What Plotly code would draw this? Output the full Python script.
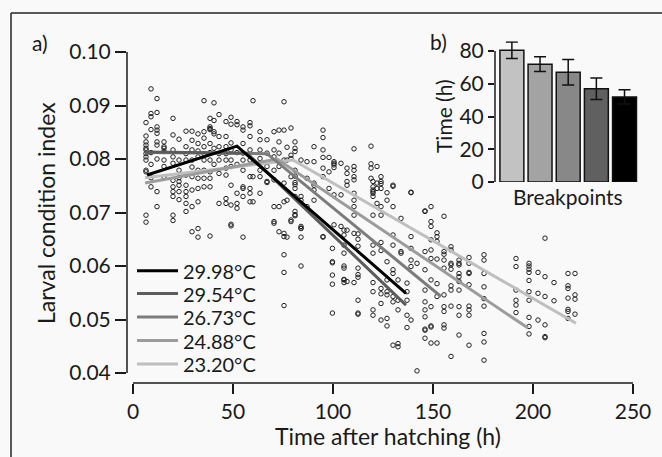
import plotly.graph_objects as go

# ---------------- data ----------------
# scatter columns: sampling time (h) and larval condition index values
col_time = [6.5, 9, 12, 15.5, 20, 23, 26.5, 29.5, 32.5, 35.5, 38.5, 40.5, 43, 46.5, 49, 52, 55,
            58.5, 60, 63.5, 67, 70.5, 73, 75.5, 77, 79, 81, 84, 87, 90.5, 95, 98, 99.7, 100.5,
            104, 105.5, 107, 110.5, 112.5, 119, 120, 122, 124, 127, 130, 132.5, 134, 137, 139,
            142, 146, 149, 152, 155.5, 159, 163, 168, 175.5, 191.5, 198, 202.5, 206, 210.5,
            217.5, 221]
col_values = [
    [0.0868, 0.0843, 0.0832, 0.0820, 0.0817, 0.0804, 0.0798, 0.0779, 0.0776, 0.0695, 0.0682, 0.0826, 0.0810],
    [0.0931, 0.0885, 0.0879, 0.0855, 0.0812, 0.0790, 0.0765, 0.0748],
    [0.0913, 0.0887, 0.0860, 0.0854, 0.0848, 0.0832, 0.0826, 0.0739, 0.0711, 0.0800],
    [0.0832, 0.0823, 0.0814, 0.0798, 0.0786, 0.0767, 0.0820],
    [0.0876, 0.0845, 0.0817, 0.0804, 0.0792, 0.0748, 0.0739, 0.0730, 0.0695, 0.0685, 0.0760],
    [0.0837, 0.0798, 0.0779, 0.0758, 0.0751, 0.0739, 0.0724, 0.0765],
    [0.0852, 0.0823, 0.0798, 0.0770, 0.0751, 0.0739, 0.0730, 0.0717, 0.0702, 0.0810],
    [0.0852, 0.0835, 0.0817, 0.0798, 0.0767, 0.0742, 0.0711, 0.0664, 0.0785],
    [0.0847, 0.0829, 0.0804, 0.0779, 0.0764, 0.0745, 0.0720, 0.0670, 0.0654, 0.0815],
    [0.0909, 0.0851, 0.0839, 0.0823, 0.0798, 0.0779, 0.0764, 0.0748, 0.0810],
    [0.0876, 0.0860, 0.0855, 0.0857, 0.0829, 0.0798, 0.0776, 0.0764, 0.0748, 0.0656, 0.0812],
    [0.0905, 0.0872, 0.0851, 0.0847, 0.0820, 0.0790],
    [0.0842, 0.0823, 0.0798, 0.0773, 0.0717, 0.0883, 0.0810],
    [0.0870, 0.0842, 0.0823, 0.0798, 0.0783, 0.0770, 0.0726, 0.0717, 0.0810],
    [0.0878, 0.0865, 0.0817, 0.0798, 0.0786, 0.0751, 0.0678, 0.0675, 0.0714, 0.0830],
    [0.0870, 0.0864, 0.0717, 0.0708, 0.0736, 0.0812, 0.0790],
    [0.0860, 0.0854, 0.0829, 0.0811, 0.0798, 0.0779, 0.0748, 0.0730, 0.0654, 0.0745],
    [0.0868, 0.0862, 0.0842, 0.0817, 0.0798, 0.0767, 0.0745, 0.0720, 0.0736],
    [0.0909, 0.0767, 0.0720],
    [0.0851, 0.0836, 0.0817, 0.0801, 0.0779, 0.0767, 0.0736],
    [0.0836, 0.0811, 0.0786, 0.0758, 0.0756],
    [0.0851, 0.0817, 0.0804, 0.0779, 0.0711, 0.0761, 0.0683, 0.0680],
    [0.0854, 0.0832, 0.0811, 0.0786, 0.0664, 0.0711],
    [0.0907, 0.0854, 0.0798, 0.0720, 0.0755, 0.0661, 0.0621, 0.0588, 0.0526, 0.0655],
    [0.0822, 0.0798, 0.0723, 0.0654],
    [0.0858, 0.0807, 0.0801, 0.0767, 0.0683, 0.0686],
    [0.0832, 0.0820, 0.0814, 0.0779, 0.0768, 0.0756, 0.0745, 0.0730, 0.0702, 0.0694, 0.0696, 0.0752],
    [0.0798, 0.0723, 0.0674, 0.0670, 0.0654, 0.0600, 0.0730, 0.0671],
    [0.0795, 0.0764, 0.0711],
    [0.0823, 0.0795, 0.0751, 0.0723, 0.0755, 0.0742],
    [0.0854, 0.0840, 0.0817, 0.0803, 0.0783, 0.0767, 0.0654, 0.0655],
    [0.0803, 0.0776, 0.0745],
    [0.0633, 0.0606, 0.0583, 0.0566, 0.0512, 0.0608],
    [0.0795, 0.0789, 0.0784, 0.0733, 0.0677, 0.0792],
    [0.0792, 0.0733, 0.0674],
    [0.0667, 0.0658, 0.0639, 0.0624, 0.0600, 0.0596, 0.0575, 0.0569, 0.0574],
    [0.0783, 0.0773, 0.0758, 0.0751, 0.0667, 0.0571],
    [0.0819, 0.0786, 0.0779, 0.0767, 0.0761, 0.0736, 0.0723, 0.0711, 0.0695, 0.0661, 0.0569],
    [0.0660, 0.0650, 0.0637, 0.0596, 0.0584, 0.0579, 0.0536, 0.0512, 0.0510],
    [0.0824, 0.0791, 0.0783, 0.0764],
    [0.0758, 0.0748, 0.0742, 0.0736, 0.0730, 0.0739, 0.0695, 0.0639, 0.0624, 0.0569, 0.0552, 0.0518, 0.0508],
    [0.0786, 0.0755, 0.0745, 0.0717],
    [0.0767, 0.0758, 0.0754, 0.0745, 0.0711, 0.0695, 0.0644, 0.0629, 0.0558, 0.0530, 0.0548, 0.0499],
    [0.0737, 0.0723, 0.0608, 0.0574, 0.0552, 0.0546, 0.0502, 0.0488],
    [0.0749, 0.0751, 0.0711, 0.0658, 0.0639, 0.0593, 0.0586, 0.0543, 0.0533, 0.0452],
    [0.0574, 0.0518, 0.0536, 0.0455, 0.0449],
    [0.0689, 0.0627, 0.0624],
    [0.0568, 0.0552, 0.0536, 0.0508, 0.0485],
    [0.0737, 0.0738, 0.0655, 0.0633, 0.0611, 0.0599, 0.0499],
    [0.0605, 0.0404],
    [0.0703, 0.0702, 0.0627, 0.0593, 0.0555, 0.0533, 0.0518, 0.0505, 0.0480, 0.0465, 0.0482],
    [0.0711, 0.0683, 0.0674, 0.0649, 0.0630, 0.0614, 0.0574, 0.0524, 0.0486, 0.0456, 0.0488],
    [0.0662, 0.0655, 0.0646, 0.0613, 0.0567, 0.0543, 0.0456],
    [0.0693, 0.0627, 0.0622, 0.0611, 0.0596, 0.0546, 0.0524, 0.0515, 0.0490, 0.0484],
    [0.0636, 0.0630, 0.0602, 0.0594, 0.0605, 0.0563, 0.0555, 0.0525, 0.0431],
    [0.0611, 0.0605, 0.0602, 0.0586, 0.0580, 0.0571, 0.0555, 0.0524, 0.0508, 0.0471],
    [0.0616, 0.0605, 0.0588, 0.0586, 0.0565, 0.0525, 0.0518, 0.0508, 0.0452],
    [0.0621, 0.0611, 0.0586, 0.0561, 0.0539, 0.0525, 0.0474, 0.0458, 0.0424],
    [0.0614, 0.0599, 0.0555, 0.0536, 0.0527, 0.0513],
    [0.0605, 0.0600, 0.0594, 0.0588, 0.0573, 0.0552, 0.0536, 0.0504, 0.0487, 0.0473],
    [0.0588, 0.0549, 0.0499],
    [0.0652, 0.0580, 0.0543, 0.0490, 0.0468, 0.0466],
    [0.0569, 0.0535],
    [0.0586, 0.0563, 0.0558, 0.0540, 0.0519, 0.0515, 0.0502],
    [0.0586, 0.0546, 0.0538, 0.0510],
]

# broken-stick fits: (start, breakpoint, end) per temperature
temps = ["29.98°C", "29.54°C", "26.73°C", "24.88°C", "23.20°C"]
fit_time = [[7, 52, 136.5], [6, 57, 136.5], [6, 67, 154], [6, 72, 197.5], [6, 80, 221.5]]
fit_value = [[0.0770, 0.0824, 0.0549], [0.0813, 0.0811, 0.0527], [0.0812, 0.0810, 0.0543],
             [0.0755, 0.0800, 0.0484], [0.0765, 0.0798, 0.0493]]
line_colors = ["#000000", "#5c5c5c", "#7c7c7c", "#9c9c9c", "#bfbfbf"]

# inset: breakpoint times (h), ordered coolest -> warmest
bp_mean = [80.5, 72, 67, 57, 52]
bp_err = [5, 4.5, 7.8, 6.6, 4.3]
bar_colors = ["#c2c2c2", "#a3a3a3", "#888888", "#606060", "#000000"]

# ---------------- figure ----------------
W, H = 662, 457
ML, MR, MT, MB = 127, 22, 40, 74
PW, PH = W - ML - MR, H - MT - MB
FONT = "Lato, 'Open Sans', sans-serif"
INK = "#1a1a1a"
BG = "#f9f9f9"


def px(xp):
    return (xp - ML) / PW


def py(yp):
    return (H - MB - yp) / PH


xs, ys = [], []
for t, vals in zip(col_time, col_values):
    for v in vals:
        xs.append(t)
        ys.append(v)

fig = go.Figure()
fig.add_trace(go.Scatter(
    x=xs, y=ys, mode="markers", showlegend=False, name="observations",
    marker=dict(symbol="circle-open", size=4.5, color="#222222", line=dict(width=1)),
))
# draw lines from coolest (lightest) to warmest so black ends on top
for i in reversed(range(len(temps))):
    fig.add_trace(go.Scatter(
        x=fit_time[i], y=fit_value[i], mode="lines", name=temps[i], showlegend=False,
        line=dict(color=line_colors[i], width=3),
    ))

fig.add_trace(go.Bar(
    x=list(range(len(bp_mean))), y=bp_mean, xaxis="x2", yaxis="y2", showlegend=False,
    marker=dict(color=bar_colors, line=dict(color="#111111", width=1.5)),
    width=0.85,
    error_y=dict(type="data", array=bp_err, color="#111111", thickness=1.5, width=6),
))

y_lo = 0.10 - (H - MB - 52) / 5350
y_hi = 0.10 + (52 - MT) / 5350

fig.update_layout(
    width=W, height=H,
    margin=dict(l=ML, r=MR, t=MT, b=MB),
    paper_bgcolor=BG, plot_bgcolor=BG,
    font=dict(family=FONT, color=INK, size=20),
    hovermode=False,
    xaxis=dict(range=[-3, -3 + PW / 2], showgrid=False, zeroline=False, showline=False,
               tickvals=[0, 50, 100, 150, 200, 250], ticks="outside", ticklen=10,
               tickwidth=1.5, tickcolor=INK, tickfont=dict(size=21)),
    yaxis=dict(range=[y_lo, y_hi], showgrid=False, zeroline=False, showline=False,
               tickvals=[0.04, 0.05, 0.06, 0.07, 0.08, 0.09, 0.10], tickformat=".2f",
               ticks="outside", ticklen=11, tickwidth=1.5, tickcolor=INK,
               tickfont=dict(size=21)),
    xaxis2=dict(domain=[px(495), px(638.6)], range=[-0.6, 4.5], anchor="y2",
                showgrid=False, zeroline=False, showline=False, showticklabels=False,
                ticks=""),
    yaxis2=dict(domain=[py(182), py(182 - 86 * 1.637)], range=[0, 86], anchor="x2",
                showgrid=False, zeroline=False, showline=False,
                tickvals=[0, 20, 40, 60, 80], ticks="outside", ticklen=6, tickwidth=1.5,
                tickcolor=INK, tickfont=dict(size=21)),
)

shapes = [
    # main axis lines (range-frame style)
    dict(type="line", xref="paper", yref="y", x0=0, x1=0, y0=0.04, y1=0.10,
         line=dict(color=INK, width=1.5)),
    dict(type="line", xref="x", yref="paper", x0=0, x1=250, y0=0, y1=0,
         line=dict(color=INK, width=1.5)),
    # inset y axis line
    dict(type="line", xref="x2 domain", yref="y2", x0=0, x1=0, y0=0, y1=80,
         line=dict(color=INK, width=1.5)),
    # outer frame (top and left)
    dict(type="line", xref="paper", yref="paper", x0=px(11), x1=px(664), y0=py(13), y1=py(13),
         line=dict(color="#222222", width=1.5)),
    dict(type="line", xref="paper", yref="paper", x0=px(11), x1=px(11), y0=py(13), y1=py(460),
         line=dict(color="#222222", width=1.5)),
]
annotations = []
rows = [270.7, 293.5, 317, 340.5, 364]
for i, name in enumerate(temps):
    shapes.append(dict(type="line", xref="paper", yref="paper", x0=px(137), x1=px(178),
                       y0=py(rows[i]), y1=py(rows[i]),
                       line=dict(color=line_colors[i], width=3)))
    annotations.append(dict(xref="paper", yref="paper", x=px(181), y=py(rows[i]),
                            text=name, showarrow=False, xanchor="left", yanchor="middle",
                            font=dict(size=20)))


def label(x, y, text, size, angle=0):
    return dict(xref="paper", yref="paper", x=px(x), y=py(y), text=text, textangle=angle,
                showarrow=False, xanchor="center", yanchor="middle", font=dict(size=size))


annotations += [
    label(46, 213, "Larval condition index", 23, -90),
    label(388, 436, "Time after hatching (h)", 23),
    label(40, 43, "a)", 21),
    label(438, 42, "b)", 21),
    label(443, 116, "Time (h)", 21, -90),
    label(568, 196, "Breakpoints", 21),
]
fig.update_layout(shapes=shapes, annotations=annotations)

fig.write_html("out.html", config={"displayModeBar": False},
               post_script="document.body.style.margin='0px';")
